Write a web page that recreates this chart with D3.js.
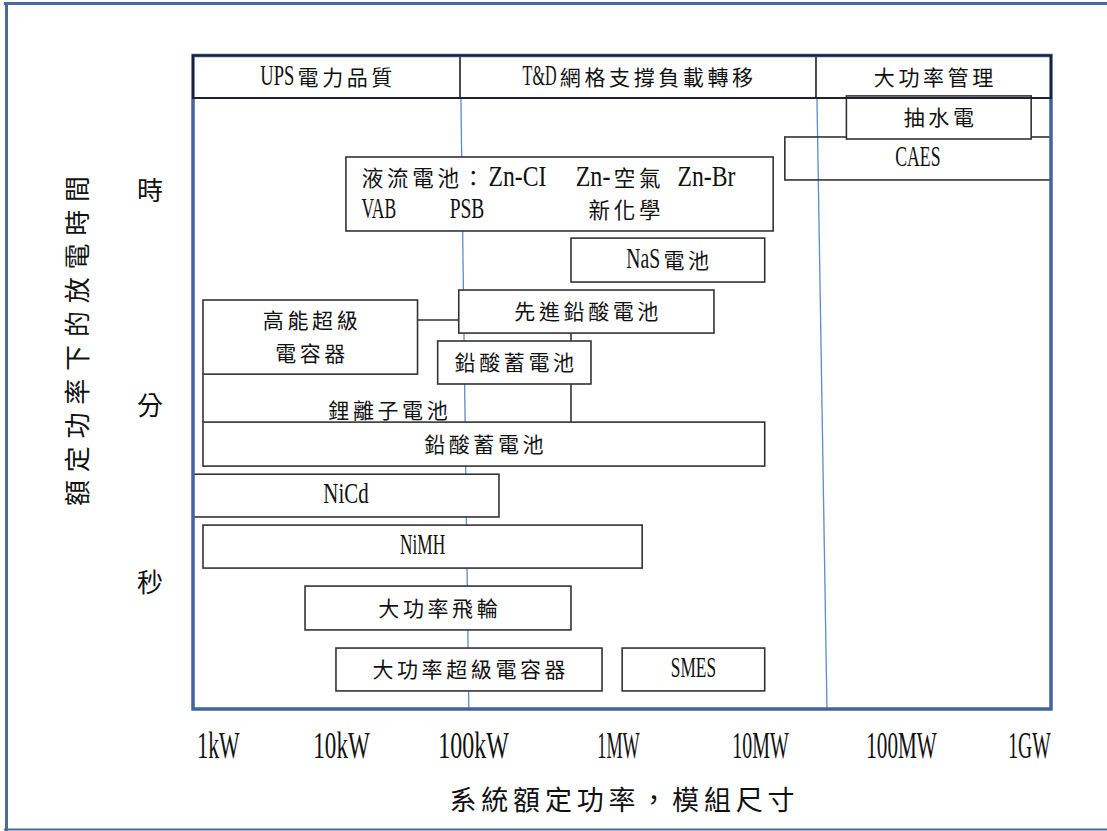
<!DOCTYPE html>
<html><head><meta charset="utf-8">
<script src="https://cdn.jsdelivr.net/npm/d3@7"></script>
<style>html,body{margin:0;padding:0;background:#fff}</style>
</head><body>
<svg id="c" width="1107" height="831"></svg>
<script>
// ---------------- DATA ----------------
const powerTicks = [1, 10, 100, 1000, 10000, 100000, 1000000]; // kW
const powerTickLabels = ["1kW", "10kW", "100kW", "1MW", "10MW", "100MW", "1GW"];
const timeTicks = [1, 60, 3600]; // seconds
const timeTickLabels = ["秒", "分", "時"];

const segmentNames = ["UPS電力品質", "T&D網格支撐負載轉移", "大功率管理"];
const segmentBounds = [79.7, 24950]; // kW
const boundaryTop = [81, 25350];     // kW, blue guide lines at top
const boundaryBottom = [93, 29850];  // kW, at bottom

const techNames = ["CAES", "抽水電", "液流電池", "NaS電池", "先進鉛酸電池", "高能超級電容器",
  "鉛酸蓄電池", "鉛酸蓄電池", "NiCd", "NiMH", "大功率飛輪", "大功率超級電容器", "SMES"];
const techLines = [["CAES"], ["抽水電"],
  ["液流電池：Zn-CI  Zn-空氣 Zn-Br", "VAB    PSB        新化學"],
  ["NaS電池"], ["先進鉛酸電池"], ["高能超級", "電容器"], ["鉛酸蓄電池"], ["鉛酸蓄電池"],
  ["NiCd"], ["NiMH"], ["大功率飛輪"], ["大功率超級電容器"], ["SMES"]];
const powerMin = [15000, 41000, 10.9, 474, 78, 0.755, 54, 0.755, 0.615, 0.755, 5.1, 9.1, 1070];
const powerMax = [1510000, 1040000, 12400, 10800, 4740, 38, 651, 10800, 151, 1480, 474, 776, 10800];
const timeMin = [4360, 9510, 1650, 624, 236, 108, 89.5, 14.6, 4.5, 1.38, 0.33, 0.0805, 0.0805];
const timeMax = [9880, 21600, 6750, 1440, 536, 443, 203, 40.4, 12.1, 3.73, 0.91, 0.217, 0.217];

const linkPowerA = [38, 474, 474, 0.755];
const linkPowerB = [78, 474, 474, 0.755];
const linkTimeA = [303, 236, 89.5, 108];
const linkTimeB = [303, 203, 40.4, 40.4];

const liIonLabel = "鋰離子電池";
const liIonPower = 22.7;
const liIonTime = 53;

const xTitle = "系統額定功率，模組尺寸";
const yTitle = "額定功率下的放電時間";

// ---------------- LAYOUT ----------------
const CJK = "'Noto Sans CJK TC','Noto Sans CJK SC',sans-serif";
const LAT = "'Liberation Serif','Times New Roman',serif";
const plot = {left: 193, right: 1051, top: 55.5, bottom: 709, header: 98};

const x = d3.scaleLog().domain(powerTicks).range([218, 341, 473, 618, 760, 901, 1029]);
const y = d3.scaleLog().domain(timeTicks).range([582, 405, 190]);

const svg = d3.select("#c");
svg.append("rect").attr("width", 1107).attr("height", 831).attr("fill", "#fff");

function squeeze(t, target) {
  const nat = t.node().getComputedTextLength();
  return nat > 0 ? target / nat : 1;
}

function richText(sel, str, cx, cy, o) {
  const cw = o.cw, half = cw / 2;
  const chars = Array.from(str);
  const total = chars.reduce((s, c) => s + (c.charCodeAt(0) < 128 ? half : cw), 0);
  let cur = o.anchor === "start" ? cx : cx - total / 2;
  const base = cy + o.cjkSize * 0.36;
  const g = sel.append("g").attr("fill", "#111");
  let i = 0;
  while (i < chars.length) {
    const c = chars[i];
    if (c === " ") { cur += half; i++; continue; }
    if (c.charCodeAt(0) < 128) {
      let j = i;
      while (j < chars.length && chars[j] !== " " && chars[j].charCodeAt(0) < 128) j++;
      const word = chars.slice(i, j).join("");
      const w = (j - i) * half;
      const t = g.append("text").attr("font-family", LAT).attr("font-size", o.latSize).text(word);
      const k = squeeze(t, w * 0.92);
      t.attr("transform", `translate(${cur + w * 0.04},${base}) scale(${k},1)`);
      cur += w; i = j;
    } else {
      g.append("text").attr("x", cur + cw / 2).attr("y", base).attr("text-anchor", "middle")
        .attr("font-family", CJK).attr("font-size", o.cjkSize).text(c);
      cur += cw; i++;
    }
  }
}

// page frame
svg.append("line").attr("x1", 4).attr("x2", 1107).attr("y1", 3.5).attr("y2", 3.5)
  .attr("stroke", "#4a6a98").attr("stroke-width", 3);
svg.append("line").attr("x1", 6.5).attr("x2", 6.5).attr("y1", 2).attr("y2", 831)
  .attr("stroke", "#4a6a98").attr("stroke-width", 3);
svg.append("line").attr("x1", 4).attr("x2", 1107).attr("y1", 829.5).attr("y2", 829.5)
  .attr("stroke", "#4a6a98").attr("stroke-width", 2);

// header cells
const cellEdges = [plot.left, ...segmentBounds.map(x), plot.right];
segmentNames.forEach((n, i) => {
  richText(svg, n, (cellEdges[i] + cellEdges[i + 1]) / 2, 77, {cw: 24.6, cjkSize: 21, latSize: 30});
});
segmentBounds.forEach(b => {
  svg.append("line").attr("x1", x(b)).attr("x2", x(b)).attr("y1", plot.top).attr("y2", plot.header)
    .attr("stroke", "#111").attr("stroke-width", 1.5);
});
svg.append("line").attr("x1", plot.left).attr("x2", plot.right).attr("y1", plot.header).attr("y2", plot.header)
  .attr("stroke", "#111").attr("stroke-width", 1.5);

// blue guide lines
boundaryTop.forEach((b, i) => {
  svg.append("line").attr("x1", x(b)).attr("x2", x(boundaryBottom[i]))
    .attr("y1", plot.header).attr("y2", plot.bottom)
    .attr("stroke", "#5b8ccc").attr("stroke-width", 1.3);
});

// boxes
techNames.forEach((n, i) => {
  const x0 = Math.max(plot.left, x(powerMin[i])), x1 = Math.min(plot.right, x(powerMax[i]));
  const y0 = y(timeMax[i]), y1 = y(timeMin[i]);
  svg.append("rect").attr("x", x0).attr("y", y0).attr("width", x1 - x0).attr("height", y1 - y0)
    .attr("fill", n === "CAES" ? "none" : "#fff").attr("stroke", "#333").attr("stroke-width", 1.6);
  const lines = techLines[i];
  const cy = (y0 + y1) / 2;
  if (n === "液流電池") {
    lines.forEach((l, k) => richText(svg, l, x0 + 14, cy + (k - 0.5) * 32,
      {cw: 25.2, cjkSize: 21.5, latSize: 30, anchor: "start"}));
  } else {
    lines.forEach((l, k) => richText(svg, l, (x0 + x1) / 2, cy + (k - (lines.length - 1) / 2) * 33,
      {cw: 24.6, cjkSize: 21, latSize: 30}));
  }
});

// connector lines
linkPowerA.forEach((p, i) => {
  svg.append("line").attr("x1", x(p)).attr("x2", x(linkPowerB[i]))
    .attr("y1", y(linkTimeA[i])).attr("y2", y(linkTimeB[i]))
    .attr("stroke", "#333").attr("stroke-width", 1.6);
});
richText(svg, liIonLabel, x(liIonPower), y(liIonTime), {cw: 24.6, cjkSize: 21, latSize: 30});

// plot frame
svg.append("rect").attr("x", plot.left).attr("y", plot.top)
  .attr("width", plot.right - plot.left).attr("height", plot.bottom - plot.top)
  .attr("fill", "none").attr("stroke", "#41659a").attr("stroke-width", 3.5);
svg.append("rect").attr("x", plot.left).attr("y", plot.top)
  .attr("width", plot.right - plot.left).attr("height", plot.header - plot.top)
  .attr("fill", "none").attr("stroke", "#1a2233").attr("stroke-width", 2);

// x axis
const xAxis = d3.axisBottom(x).tickValues(powerTicks)
  .tickFormat((d, i) => powerTickLabels[i]).tickSize(0).tickPadding(0);
const gx = svg.append("g").attr("transform", "translate(0,758)").call(xAxis);
gx.select(".domain").remove();
gx.selectAll("text").attr("y", 0).attr("dy", 0)
  .attr("font-family", LAT).attr("font-size", 37).attr("fill", "#111")
  .each(function (d, i) {
    const t = d3.select(this);
    const k = squeeze(t, powerTickLabels[i].length * 15 * 0.94);
    t.attr("transform", `scale(${k},1)`);
  });

// y axis (時 / 分 / 秒)
const yAxis = d3.axisLeft(y).tickValues(timeTicks)
  .tickFormat((d, i) => timeTickLabels[i]).tickSize(0).tickPadding(0);
const gy = svg.append("g").attr("transform", "translate(150,0)").call(yAxis);
gy.select(".domain").remove();
gy.selectAll("text").attr("x", 0).attr("dy", "0.36em").attr("text-anchor", "middle")
  .attr("font-family", CJK).attr("font-size", 26).attr("fill", "#111");

// titles
richText(svg, xTitle, 622, 800, {cw: 31.8, cjkSize: 27, latSize: 34});
const yt = svg.append("g").attr("transform", "translate(78,341) rotate(-90)");
richText(yt, yTitle, 0, 0, {cw: 33.8, cjkSize: 26, latSize: 34});
</script>
</body></html>
